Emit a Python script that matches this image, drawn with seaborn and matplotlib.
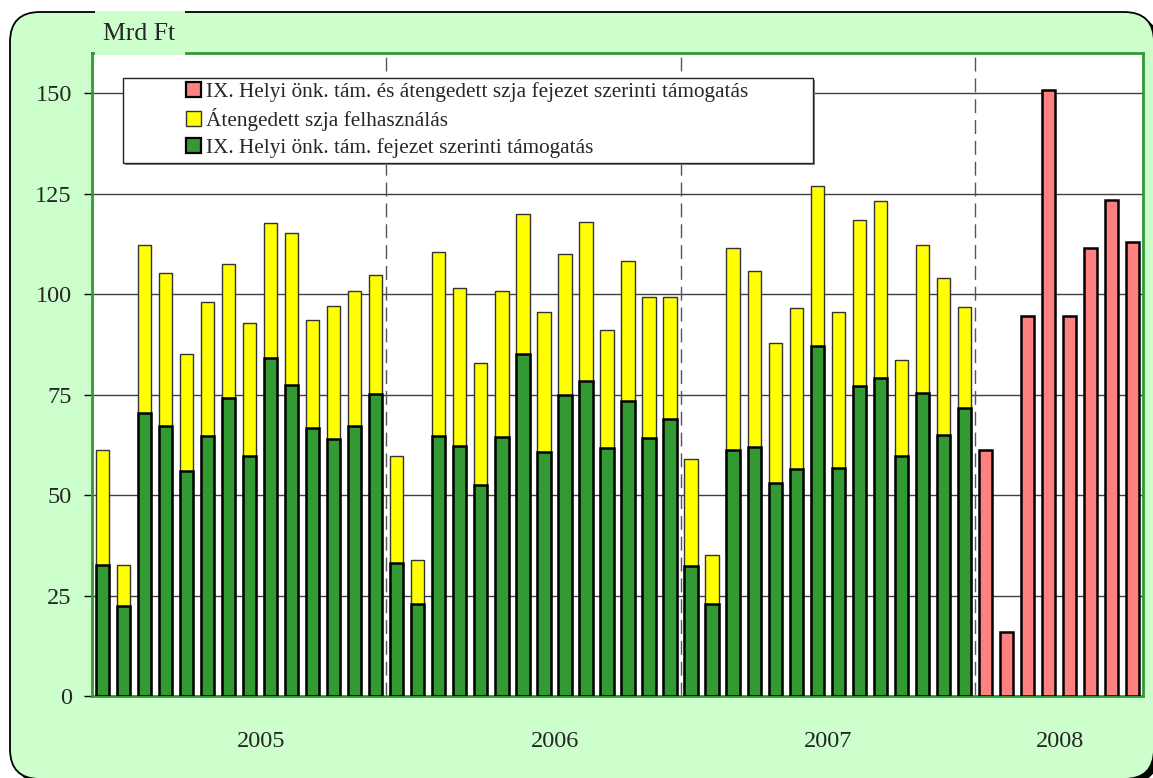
import numpy as np
import pandas as pd
import matplotlib
matplotlib.use("Agg")
import matplotlib.pyplot as plt
import seaborn as sns
from matplotlib.patches import Rectangle, FancyBboxPatch, Patch

# === Data (Mrd Ft), 14 periods per year 2005-2007, 8 in 2008 ===
years = ["2005", "2006", "2007", "2008"]
per_year = [14, 14, 14, 8]

green_2005 = [32.7, 22.5, 70.4, 67.2, 56.0, 64.6, 74.2, 59.8, 84.2, 77.4, 66.6, 63.9, 67.3, 75.2]
total_2005 = [61.1, 32.5, 112.2, 105.2, 85.0, 98.1, 107.5, 92.8, 117.6, 115.3, 93.6, 97.1, 100.7, 104.8]
green_2006 = [33.2, 22.8, 64.7, 62.1, 52.6, 64.5, 85.1, 60.7, 75.0, 78.3, 61.7, 73.5, 64.3, 69.0]
total_2006 = [59.8, 33.8, 110.6, 101.6, 82.8, 100.7, 120.0, 95.5, 109.9, 117.9, 91.1, 108.3, 99.2, 99.2]
green_2007 = [32.4, 23.0, 61.1, 62.0, 52.9, 56.5, 87.0, 56.8, 77.2, 79.1, 59.8, 75.5, 65.0, 71.7]
total_2007 = [59.0, 35.0, 111.4, 105.7, 87.8, 96.5, 126.8, 95.5, 118.5, 123.2, 83.7, 112.3, 103.9, 96.7]
red_2008 = [61.1, 15.9, 94.6, 150.8, 94.6, 111.6, 123.3, 112.9]

lbl_red = "IX. Helyi önk. tám. és átengedett szja fejezet szerinti támogatás"
lbl_yellow = "Átengedett szja felhasználás"
lbl_green = "IX. Helyi önk. tám. fejezet szerinti támogatás"

C_GREEN = "#339933"
C_YELLOW = "#FFFF00"
C_RED = "#FF8080"
C_BG = "#CCFFCC"

n_slots = sum(per_year)
slots = list(range(n_slots))
df_stack = pd.DataFrame({
    "slot": slots[:42],
    "total": total_2005 + total_2006 + total_2007,
    "green": green_2005 + green_2006 + green_2007,
})
df_red = pd.DataFrame({"slot": slots[42:], "value": red_2008})

# === Figure ===
sns.set_style("white")
plt.rcParams["font.family"] = ["Liberation Serif", "DejaVu Serif"]

W, H = 1153, 778
fig = plt.figure(figsize=(W / 100, H / 100), dpi=100)
fig.patch.set_facecolor("white")

def fx(px):
    return px / W

def fy(py):
    return 1 - py / H

# rounded light green background (bottom/right run off the canvas)
bg = fig.add_axes([0, 0, 1, 1], zorder=-1)
bg.set_xlim(0, W)
bg.set_ylim(0, H)
bg.axis("off")
bg.add_patch(FancyBboxPatch((14, -5), 1145, 767, boxstyle="round,pad=0,rounding_size=30",
                            facecolor="black", edgecolor="none"))
bg.add_patch(FancyBboxPatch((10, -1), 1144, 767, boxstyle="round,pad=0,rounding_size=30",
                            facecolor=C_BG, edgecolor="black", linewidth=1.3))

ax = fig.add_axes([fx(92), fy(696), fx(1143) - fx(92), fy(53) - fy(696)])
ax.set_facecolor("white")

sns.barplot(data=df_stack, x="slot", y="total", order=slots, color=C_YELLOW, width=0.63,
            edgecolor="#333333", linewidth=1.0, saturation=1, ax=ax, zorder=3)
sns.barplot(data=df_stack, x="slot", y="green", order=slots, color=C_GREEN, width=0.63,
            edgecolor="black", linewidth=1.8, saturation=1, ax=ax, zorder=3)
sns.barplot(data=df_red, x="slot", y="value", order=slots, color=C_RED, width=0.63,
            edgecolor="black", linewidth=1.8, saturation=1, ax=ax, zorder=3)

ax.set_xlim(-0.5, n_slots - 0.5)
ax.set_ylim(0, 160)
ax.set_xlabel("")
ax.set_ylabel("")

# horizontal grid
ax.set_yticks([0, 25, 50, 75, 100, 125, 150])
for v in [25, 50, 75, 100, 125, 150]:
    ax.axhline(v, color="#404040", linewidth=1.0, zorder=1)

# year separators
bounds = np.cumsum(per_year)[:-1] - 0.5
for b in bounds:
    ax.axvline(b, color="#555555", linewidth=1.0, linestyle=(0, (10, 5)), zorder=1)

ax.set_xticks([7.56, 21.53, 34.51, 45.55])
ax.set_xticklabels(years, fontsize=17.5)
ax.set_xticks(list(np.concatenate([[-0.5], bounds])), minor=True)
ax.tick_params(axis="x", which="major", length=0, pad=25)
ax.tick_params(axis="x", which="minor", length=10, width=1, color="black", direction="out")
ax.tick_params(axis="y", which="major", length=6, width=1, color="black", direction="out",
               left=True, labelsize=17.5, pad=8.5)

for side in ["left", "right", "top", "bottom"]:
    ax.spines[side].set_color(C_GREEN)
    ax.spines[side].set_linewidth(2)
    ax.spines[side].set_visible(True)

# legend with frame
fig.patches.append(Rectangle((fx(125), fy(165)), fx(815) - fx(125), fy(80) - fy(165),
                             transform=fig.transFigure, facecolor="#888888", edgecolor="none", zorder=2))
fig.patches.append(Rectangle((fx(123), fy(163)), fx(813) - fx(123), fy(78) - fy(163),
                             transform=fig.transFigure, facecolor="white", edgecolor="#222222",
                             linewidth=1.0, zorder=2))
handles = [Patch(facecolor=C_RED, edgecolor="black", linewidth=1.6),
           Patch(facecolor=C_YELLOW, edgecolor="#333333", linewidth=1.0),
           Patch(facecolor=C_GREEN, edgecolor="black", linewidth=1.6)]
fig.legend(handles, [lbl_red, lbl_yellow, lbl_green], loc="upper left",
           bbox_to_anchor=(fx(186), fy(82)), frameon=False, fontsize=15.3,
           handlelength=0.7, handleheight=0.7, handletextpad=0.25,
           labelspacing=0.3, borderpad=0, borderaxespad=0)

# unit label box
fig.patches.append(Rectangle((fx(95), fy(55)), fx(185) - fx(95), fy(11) - fy(55),
                             transform=fig.transFigure, facecolor=C_BG, edgecolor="none", zorder=2))
fig.text(fx(103), fy(34), "Mrd Ft", fontsize=18.5, va="center", ha="left", zorder=3)

fig.savefig("out.png", dpi=100, facecolor="white")
